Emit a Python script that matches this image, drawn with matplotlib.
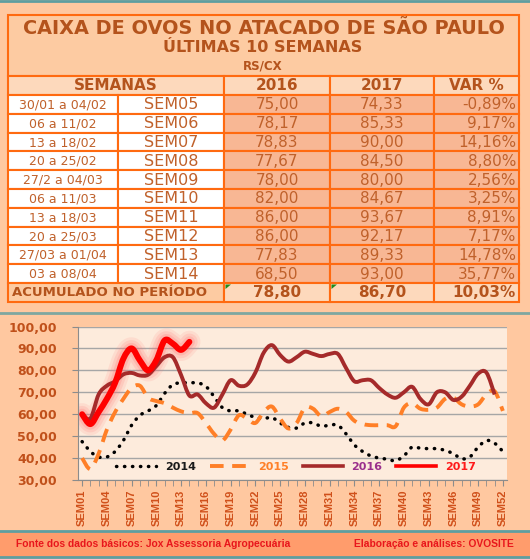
import matplotlib
matplotlib.use("Agg")
import matplotlib.pyplot as plt
from matplotlib.patches import Rectangle, Polygon, PathPatch
from matplotlib.path import Path
from matplotlib.lines import Line2D

# --- dados da tabela ---
datas = ["30/01 a 04/02", "06 a 11/02", "13 a 18/02", "20 a 25/02", "27/2 a 04/03",
         "06 a 11/03", "13 a 18/03", "20 a 25/03", "27/03 a 01/04", "03 a 08/04"]
semanas = ["SEM05", "SEM06", "SEM07", "SEM08", "SEM09",
           "SEM10", "SEM11", "SEM12", "SEM13", "SEM14"]
tab_2016 = [75.00, 78.17, 78.83, 77.67, 78.00, 82.00, 86.00, 86.00, 77.83, 68.50]
tab_2017 = [74.33, 85.33, 90.00, 84.50, 80.00, 84.67, 93.67, 92.17, 89.33, 93.00]
tab_var = [-0.89, 9.17, 14.16, 8.80, 2.56, 3.25, 8.91, 7.17, 14.78, 35.77]
acum = [78.80, 86.70, 10.03]

# --- séries do gráfico (R$/cx por semana) ---
s2014 = [47.5, 43, 40.5, 40.5, 43, 48, 55, 59.5, 61.5, 64, 69.5, 73.5, 74.3, 74.3, 74.3,
         72.7, 68, 63, 61.5, 61.5, 60, 58.5, 58, 58.5, 56, 54, 53.7, 56, 56, 54.5, 55, 55,
         51, 46, 43, 41, 40, 39.5, 38.8, 41, 45, 44.5, 44.3, 44.3, 43.5, 42, 39.7, 40.5,
         45, 48, 46.8, 43]
s2015 = [40, 35, 42, 53, 61, 67, 72, 73, 67.5, 66, 65, 63, 61.3, 60.5, 60.5, 56, 51, 48,
         53, 59.5, 58, 56, 61, 63.5, 58, 53.5, 56, 63, 62.5, 59, 61, 62.5, 61, 57, 55.5,
         55, 55, 55, 54.5, 63, 65, 62.5, 62, 63, 67, 67.5, 64.5, 63.5, 64.5, 69, 70.5, 61.5]
s2016 = [60, 58, 69, 73, 75.00, 78.17, 78.83, 77.67, 78.00, 82.00, 86.00, 86.00, 77.83,
         68.50, 69, 65, 63, 69, 75.5, 73, 73.5, 79, 88, 91.5, 87, 84, 86, 88.5, 87.5, 86.5,
         87.5, 87.5, 81, 75, 75.5, 75.5, 72, 69, 67.5, 70, 72.5, 67, 64.5, 70, 70, 66.5,
         68, 73, 78.5, 79, 69]
s2017 = [60, 55.5, 61, 67, 74.33, 85.33, 90.00, 84.50, 80.00, 84.67, 93.67, 92.17, 89.33, 93.00]

ticks_sem = [f"SEM{i:02d}" for i in range(1, 53, 3)]


def br(v, nd=2):
    return f"{v:.{nd}f}".replace(".", ",")


def curva(ys):
    # linha suavizada (estilo Excel) em coordenadas de dados
    pts = [(i + 1, v) for i, v in enumerate(ys)]
    verts = [pts[0]]
    codes = [Path.MOVETO]
    for i in range(len(pts) - 1):
        p0 = pts[i - 1] if i > 0 else pts[i]
        p1 = pts[i]
        p2 = pts[i + 1]
        p3 = pts[i + 2] if i + 2 < len(pts) else p2
        c1 = (p1[0] + (p2[0] - p0[0]) / 6, p1[1] + (p2[1] - p0[1]) / 6)
        c2 = (p2[0] - (p3[0] - p1[0]) / 6, p2[1] - (p3[1] - p1[1]) / 6)
        verts += [c1, c2, p2]
        codes += [Path.CURVE4] * 3
    return Path(verts, codes)


W, H = 530, 559
fig = plt.figure(figsize=(W / 100, H / 100), dpi=100)
fig.patch.set_facecolor("#FFC8A0")

bg = fig.add_axes([0, 0, 1, 1])
bg.set_xlim(0, W)
bg.set_ylim(H, 0)
bg.axis("off")

laranja = "#FF6A10"
txt_b = "#B4531C"
txt_n = "#C0612B"

# faixas de contorno
bg.plot([0, W], [1, 1], color="#5F9EA0", lw=2)
bg.plot([0, W], [313, 313], color="#7FA7A0", lw=2)

# bloco do título
bg.add_patch(Rectangle((8, 15), 511, 61, facecolor="#FDCBA2", edgecolor=laranja, lw=1.5))
bg.text(264, 28, "CAIXA DE OVOS NO ATACADO DE SÃO PAULO", ha="center", va="center",
        fontsize=13.9, fontweight="bold", color=txt_b)
bg.text(263, 48, "ÚLTIMAS 10 SEMANAS", ha="center", va="center",
        fontsize=11.5, fontweight="bold", color=txt_b)
bg.text(263, 66, "RS/CX", ha="center", va="center",
        fontsize=8.5, fontweight="bold", color=txt_b)

cols = [8, 118, 224, 330, 434, 519]
top_hdr = 76
rh = 18.8

# cabeçalho
hdr_y = top_hdr
bg.add_patch(Rectangle((cols[0], hdr_y), cols[2] - cols[0], 19, facecolor="#FDD9BC",
                       edgecolor=laranja, lw=1.5))
bg.text((cols[0] + cols[2]) / 2, hdr_y + 9.5, "SEMANAS", ha="center", va="center",
        fontsize=11, fontweight="bold", color=txt_b)
for k, lab in enumerate(["2016", "2017", "VAR %"]):
    x0, x1 = cols[k + 2], cols[k + 3]
    bg.add_patch(Rectangle((x0, hdr_y), x1 - x0, 19, facecolor="#FDD9BC",
                           edgecolor=laranja, lw=1.5))
    bg.text((x0 + x1) / 2, hdr_y + 9.5, lab, ha="center", va="center",
            fontsize=11, fontweight="bold", color=txt_b)

# linhas de dados
y0 = top_hdr + 19
for i in range(len(datas)):
    y = y0 + i * rh
    for c in range(5):
        fc = "white" if c < 2 else "#F8B794"
        bg.add_patch(Rectangle((cols[c], y), cols[c + 1] - cols[c], rh, facecolor=fc,
                               edgecolor=laranja, lw=1.5))
    yc = y + rh / 2 + 0.5
    bg.text((cols[0] + cols[1]) / 2, yc, datas[i], ha="center", va="center",
            fontsize=9, color=txt_n)
    bg.text((cols[1] + cols[2]) / 2, yc, semanas[i], ha="center", va="center",
            fontsize=11.5, color=txt_n)
    bg.text((cols[2] + cols[3]) / 2, yc, br(tab_2016[i]), ha="center", va="center",
            fontsize=11, color=txt_n)
    bg.text((cols[3] + cols[4]) / 2, yc, br(tab_2017[i]), ha="center", va="center",
            fontsize=11, color=txt_n)
    bg.text(cols[5] - 3, yc, br(tab_var[i]) + "%", ha="right", va="center",
            fontsize=11, color=txt_n)

# acumulado
ya = y0 + len(datas) * rh
bg.add_patch(Rectangle((cols[0], ya), cols[2] - cols[0], rh, facecolor="#FDCBA2",
                       edgecolor=laranja, lw=1.5))
bg.text(cols[0] + 4, ya + rh / 2 + 0.5, "ACUMULADO NO PERÍODO", ha="left", va="center",
        fontsize=9.5, fontweight="bold", color=txt_b)
for k in range(3):
    x0, x1 = cols[k + 2], cols[k + 3]
    bg.add_patch(Rectangle((x0, ya), x1 - x0, rh, facecolor="#FDD9BC",
                           edgecolor=laranja, lw=1.5))
    s = br(acum[k]) + ("%" if k == 2 else "")
    if k == 2:
        bg.text(x1 - 3, ya + rh / 2 + 0.5, s, ha="right", va="center",
                fontsize=11, fontweight="bold", color=txt_b)
    else:
        bg.text((x0 + x1) / 2, ya + rh / 2 + 0.5, s, ha="center", va="center",
                fontsize=11, fontweight="bold", color=txt_b)
        bg.add_patch(Polygon([[x0 + 1.5, ya + 1.5], [x0 + 7, ya + 1.5], [x0 + 1.5, ya + 6]],
                             closed=True, facecolor="#1E8C1E", edgecolor="none"))

# rodapé
bg.add_patch(Rectangle((0, 531), W, 26, facecolor="#FF9C6C", edgecolor="none"))
bg.plot([0, W], [531, 531], color="#5F9EA0", lw=2)
bg.plot([0, W], [557, 557], color="#5F9EA0", lw=2)
bg.text(16, 544, "Fonte dos dados básicos: Jox Assessoria Agropecuária", ha="left",
        va="center", fontsize=7.4, fontweight="bold", color="#E8161C", family="Liberation Sans")
bg.text(514, 544, "Elaboração e análises: OVOSITE", ha="right",
        va="center", fontsize=7.4, fontweight="bold", color="#E8161C", family="Liberation Sans")

# --- gráfico ---
ax = fig.add_axes([78 / W, 1 - 480 / H, (507 - 78) / W, (480 - 326.5) / H])
ax.set_facecolor("#FDEBDC")

ls14 = (0, (0.1, 2.2))
ls15 = (0, (3.5, 2.2))

ax.add_patch(PathPatch(curva(s2014), fill=False, edgecolor="black", lw=2.5,
                       linestyle=ls14, capstyle="round", zorder=3))
ax.add_patch(PathPatch(curva(s2015), fill=False, edgecolor="#FF7F27", lw=2.8,
                       linestyle=ls15, joinstyle="round", zorder=3))
for lw_g, a in [(16, 0.12), (12, 0.16), (8, 0.22)]:
    ax.add_patch(PathPatch(curva(s2017), fill=False, edgecolor="#FF7070", lw=lw_g, alpha=a,
                           capstyle="round", joinstyle="round", zorder=2))
ax.add_patch(PathPatch(curva(s2016), fill=False, edgecolor="#A52A2A", lw=2.8,
                       joinstyle="round", zorder=4))
ax.add_patch(PathPatch(curva(s2017), fill=False, edgecolor="#FF0000", lw=4.3,
                       joinstyle="round", capstyle="round", zorder=5))

ax.set_xlim(0.5, 52.5)
ax.set_ylim(30, 100)
ax.set_yticks(range(30, 101, 10))
ax.set_yticklabels([br(v) for v in range(30, 101, 10)], fontsize=9, fontweight="bold",
                   color="#C0501A")
ax.set_xticks(range(1, 53, 3))
ax.set_xticklabels(ticks_sem, rotation=90, fontsize=8, fontweight="bold",
                   color="#D0501A", family="Liberation Sans")
ax.set_xticks(range(1, 53), minor=True)
ax.tick_params(axis="x", which="both", length=4, color="#8C8C8C", direction="out", pad=3)
ax.tick_params(axis="y", length=4, color="#8C8C8C", pad=11)
ax.grid(axis="y", color="#A6A6A6", lw=1)
ax.set_axisbelow(True)
for sp in ["top", "right"]:
    ax.spines[sp].set_visible(False)
for sp in ["left", "bottom"]:
    ax.spines[sp].set_color("#8C8C8C")

handles = [
    Line2D([], [], color="black", lw=2.5, linestyle=ls14, dash_capstyle="round"),
    Line2D([], [], color="#FF7F27", lw=2.8, linestyle=ls15),
    Line2D([], [], color="#A52A2A", lw=2.6),
    Line2D([], [], color="#FF0000", lw=2.6),
]
leg = ax.legend(handles, ["2014", "2015", "2016", "2017"], loc="center",
                bbox_to_anchor=(0.508, 0.085), ncol=4, frameon=False, handlelength=3.6,
                columnspacing=1.2, handletextpad=0.8,
                prop={"size": 8, "weight": "bold"})
for t, c in zip(leg.get_texts(), ["#1A1A1A", "#FF7F27", "#9B2F8C", "#FF1A1A"]):
    t.set_color(c)

fig.savefig("out.png", dpi=100, facecolor=fig.get_facecolor())
